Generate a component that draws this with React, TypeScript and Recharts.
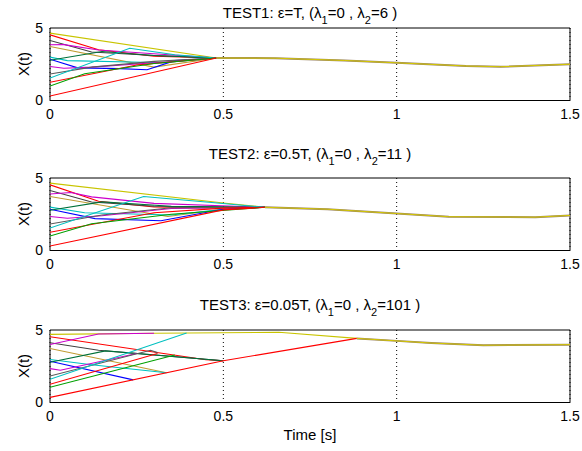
import { LineChart, Line, XAxis, YAxis, CartesianGrid, ReferenceArea } from 'recharts'

type Pt = [number, number]

const xTicks = [0, 0.5, 1, 1.5]
const yTicks = [0, 5]

// one colour per agent, same order in every test
const agentColors = [
  '#c8c400', '#ff0000', '#404040', '#cc00cc', '#c09a30', '#00c0c0', '#0000ff',
  '#00703a', '#cc00cc', '#5a5a5a', '#00c0c0', '#ff0000', '#00a000', '#ff0000',
]

// TEST1: eps = T
const test1Paths: Pt[][] = [
  [[0, 4.65], [0.48, 2.93]],
  [[0, 4.53], [0.14, 3.5], [0.3, 3.05], [0.48, 2.93]],
  [[0, 4.14], [0.12, 3.35], [0.3, 3.1], [0.48, 2.93]],
  [[0, 3.84], [0.04, 3.85], [0.14, 3.48], [0.48, 2.93]],
  [[0, 3.72], [0.3, 2.3], [0.48, 2.93]],
  [[0, 2.99], [0.05, 2.75], [0.33, 2.6], [0.48, 2.93]],
  [[0, 2.85], [0.08, 2.25], [0.2, 2.2], [0.28, 2.12], [0.36, 2.75], [0.48, 2.93]],
  [[0, 2.78], [0.15, 3.38], [0.3, 3.1], [0.48, 2.93]],
  [[0, 2.34], [0.04, 2.22], [0.12, 2.3], [0.3, 2.6], [0.48, 2.93]],
  [[0, 1.83], [0.12, 2.3], [0.3, 2.7], [0.48, 2.93]],
  [[0, 1.55], [0.23, 3.6], [0.36, 3.15], [0.48, 2.93]],
  [[0, 1.26], [0.25, 2.45], [0.48, 2.93]],
  [[0, 1.0], [0.1, 1.85], [0.3, 2.55], [0.48, 2.93]],
  [[0, 0.31], [0.48, 2.93]],
]
const test1Tail: Pt[] = [[0.48, 2.93], [0.65, 2.92], [0.85, 2.76], [1.0, 2.6], [1.2, 2.38], [1.3, 2.33], [1.5, 2.5]]

// TEST2: eps = 0.5T
const test2Paths: Pt[][] = [
  [[0, 4.65], [0.5, 3.28], [0.62, 2.98]],
  [[0, 4.53], [0.14, 3.4], [0.3, 3.0], [0.45, 2.95], [0.62, 2.98]],
  [[0, 4.14], [0.12, 3.35], [0.3, 3.05], [0.62, 2.98]],
  [[0, 3.9], [0.06, 4.0], [0.12, 3.7], [0.3, 3.25], [0.62, 2.98]],
  [[0, 3.72], [0.34, 2.35], [0.5, 2.85], [0.62, 2.98]],
  [[0, 2.99], [0.1, 2.6], [0.35, 2.45], [0.5, 2.85], [0.62, 2.98]],
  [[0, 2.85], [0.13, 2.2], [0.32, 2.05], [0.5, 2.85], [0.62, 2.98]],
  [[0, 2.78], [0.15, 3.35], [0.35, 3.05], [0.62, 2.98]],
  [[0, 2.34], [0.05, 2.22], [0.15, 2.4], [0.35, 2.9], [0.62, 2.98]],
  [[0, 1.83], [0.15, 2.45], [0.35, 2.95], [0.62, 2.98]],
  [[0, 1.55], [0.27, 3.72], [0.45, 3.35], [0.62, 2.98]],
  [[0, 1.26], [0.3, 2.6], [0.5, 2.92], [0.62, 2.98]],
  [[0, 1.0], [0.12, 1.85], [0.35, 2.5], [0.62, 2.98]],
  [[0, 0.31], [0.5, 2.8], [0.62, 2.98]],
]
const test2Tail: Pt[] = [[0.62, 2.98], [0.8, 2.85], [1.0, 2.55], [1.15, 2.33], [1.4, 2.3], [1.5, 2.42]]

// TEST3: eps = 0.05T
const test3Paths: Pt[][] = [
  [[0, 4.7], [0.3, 4.78], [0.66, 4.84], [0.885, 4.42]],
  [[0, 4.53], [0.45, 2.95], [0.5, 2.88]],
  [[0, 4.12], [0.14, 3.6], [0.5, 2.88]],
  [[0, 4.0], [0.14, 4.72], [0.3, 4.78]],
  [[0, 3.72], [0.336, 2.05]],
  [[0, 2.97], [0.12, 2.6], [0.336, 2.05]],
  [[0, 2.85], [0.24, 1.56]],
  [[0, 2.78], [0.16, 3.56], [0.5, 2.88]],
  [[0, 2.34], [0.03, 2.22], [0.25, 3.38]],
  [[0, 1.83], [0.29, 3.6], [0.31, 3.44]],
  [[0, 1.6], [0.394, 4.8]],
  [[0, 1.26], [0.31, 3.38]],
  [[0, 1.05], [0.36, 3.27]],
  [[0, 0.35], [0.5, 2.88], [0.885, 4.42]],
]
const test3Tail: Pt[] = [[0.885, 4.42], [1.0, 4.25], [1.1, 4.1], [1.25, 3.95], [1.5, 3.99]]

const toRows = (pts: Pt[]) => pts.map(([t, v]) => ({ t, v }))

const font = '"Liberation Sans", Arial, sans-serif'

function Sub({ children }: { children: React.ReactNode }) {
  return <span style={{ fontSize: 11, verticalAlign: '-6px', lineHeight: 0 }}>{children}</span>
}

function Panel({ top, paths, tail }: { top: number; paths: Pt[][]; tail: Pt[] }) {
  return (
    <div style={{ position: 'absolute', left: 0, top }}>
      <LineChart width={582} height={130.5} margin={{ top: 28, right: 12, bottom: 0, left: 0 }}>
        <CartesianGrid horizontal={false} stroke="#000" strokeDasharray="1 3" />
        <XAxis
          dataKey="t"
          type="number"
          domain={[0, 1.5]}
          ticks={xTicks}
          height={30}
          axisLine={false}
          tickLine={false}
          tickSize={7}
          tickMargin={2}
          tick={{ fill: '#000', fontSize: 14 }}
          allowDataOverflow
        />
        <YAxis
          type="number"
          domain={[0, 5]}
          ticks={yTicks}
          width={50}
          axisLine={false}
          tickLine={false}
          tickSize={5}
          tickMargin={2}
          tick={{ fill: '#000', fontSize: 14 }}
          allowDataOverflow
        />
        {paths.map((p, i) => (
          <Line
            key={i}
            data={toRows(p)}
            dataKey="v"
            stroke={agentColors[i]}
            strokeWidth={1.1}
            dot={false}
            isAnimationActive={false}
          />
        ))}
        <Line data={toRows(tail)} dataKey="v" stroke="#9a8468" strokeWidth={2} dot={false} isAnimationActive={false} />
        <Line data={toRows(tail)} dataKey="v" stroke="#d4c800" strokeWidth={1} dot={false} isAnimationActive={false} />
        <ReferenceArea x1={0} x2={1.5} y1={0} y2={5} fill="none" stroke="#000" strokeWidth={1} />
      </LineChart>
    </div>
  )
}

const titleStyle = (top: number): React.CSSProperties => ({
  position: 'absolute',
  left: 50,
  width: 520,
  top,
  textAlign: 'center',
  fontSize: 15,
  lineHeight: '15px',
  whiteSpace: 'nowrap',
})

const yLabelStyle = (center: number): React.CSSProperties => ({
  position: 'absolute',
  left: 22.5,
  top: center,
  fontSize: 15,
  lineHeight: '15px',
  transform: 'translate(-50%, -50%) rotate(-90deg)',
  whiteSpace: 'nowrap',
})

export default function App() {
  return (
    <div
      style={{
        position: 'absolute',
        left: 0,
        top: 0,
        width: 582,
        height: 451,
        background: '#fff',
        fontFamily: font,
        color: '#000',
        overflow: 'hidden',
      }}
    >
      <Panel top={0} paths={test1Paths} tail={test1Tail} />
      <Panel top={150} paths={test2Paths} tail={test2Tail} />
      <Panel top={301.5} paths={test3Paths} tail={test3Tail} />

      <div style={titleStyle(4.6)}>
        TEST1: ε=T, (λ<Sub>1</Sub>=0 , λ<Sub>2</Sub>=6 )
      </div>
      <div style={titleStyle(146.3)}>
        TEST2: ε=0.5T, (λ<Sub>1</Sub>=0 , λ<Sub>2</Sub>=11 )
      </div>
      <div style={titleStyle(297.3)}>
        TEST3: ε=0.05T, (λ<Sub>1</Sub>=0 , λ<Sub>2</Sub>=101 )
      </div>

      <div style={yLabelStyle(64)}>X(t)</div>
      <div style={yLabelStyle(214)}>X(t)</div>
      <div style={yLabelStyle(366)}>X(t)</div>

      <div style={{ ...titleStyle(427.3) }}>Time [s]</div>
    </div>
  )
}
